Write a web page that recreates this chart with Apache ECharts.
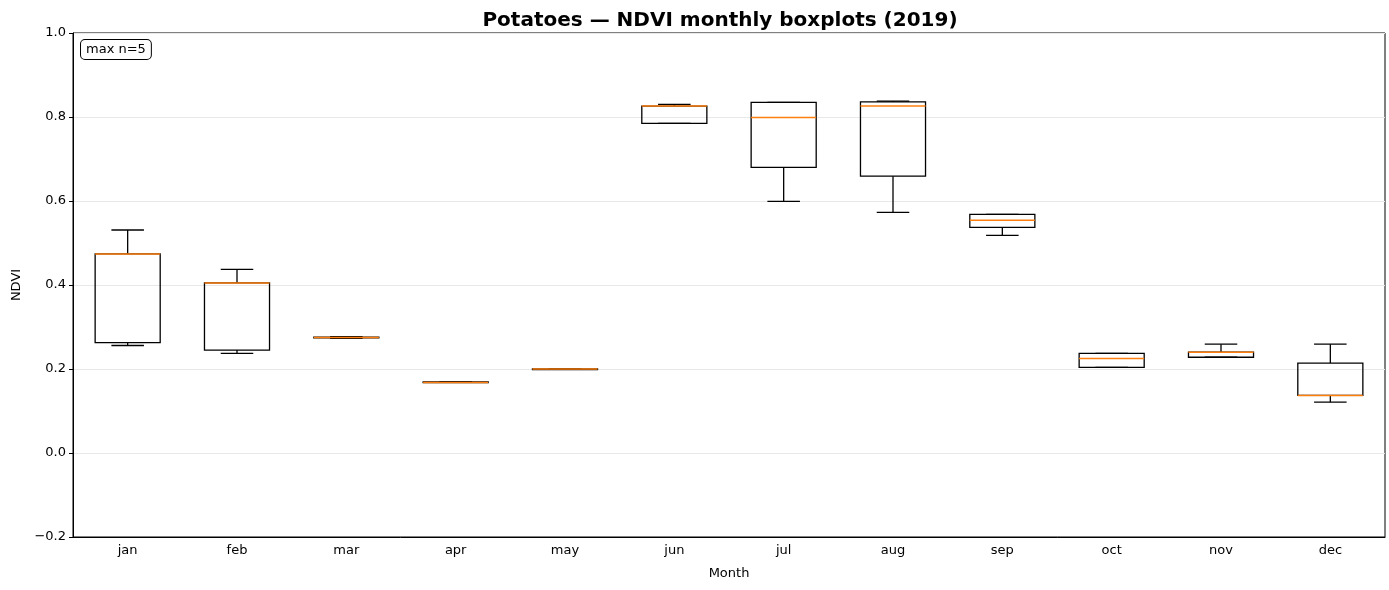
<!DOCTYPE html>
<html><head><meta charset="utf-8">
<script src="https://cdn.jsdelivr.net/npm/echarts@6/dist/echarts.min.js"></script>
<style>html,body{margin:0;padding:0;background:#fff}#c{width:1389px;height:590px}</style>
</head><body><div id="c"></div>
<script>
const months = ['jan','feb','mar','apr','may','jun','jul','aug','sep','oct','nov','dec'];
const whiskerLow = [0.256,0.237,0.273,0.168,0.199,0.785,0.599,0.573,0.518,0.204,0.228,0.121];
const q1Vals     = [0.263,0.245,0.274,0.168,0.200,0.785,0.680,0.659,0.537,0.204,0.228,0.137];
const medianVals = [0.474,0.405,0.275,0.168,0.200,0.826,0.799,0.826,0.554,0.225,0.240,0.137];
const q3Vals     = [0.474,0.405,0.276,0.169,0.200,0.826,0.835,0.836,0.568,0.237,0.240,0.214];
const whiskerHigh= [0.531,0.437,0.277,0.169,0.201,0.830,0.835,0.838,0.568,0.237,0.259,0.259];
const yTicks = [-0.2,0.0,0.2,0.4,0.6,0.8,1.0];

const chart = echarts.init(document.getElementById('c'), null, {renderer:'canvas'});
const FONT = 'DejaVu Sans';
const data = months.map((m,i)=>[i, whiskerLow[i], q1Vals[i], medianVals[i], q3Vals[i], whiskerHigh[i]]);

function renderItem(params, api){
  const i = api.value(0);
  const band = api.size([1,0])[0];
  const bw = band*0.595, cw = bw/2;
  const pLow = api.coord([i, api.value(1)]);
  const pQ1 = api.coord([i, api.value(2)]);
  const pMed = api.coord([i, api.value(3)]);
  const pQ3 = api.coord([i, api.value(4)]);
  const pHigh = api.coord([i, api.value(5)]);
  const x = pQ1[0];
  const ls = {stroke:'#000', lineWidth:1.3, fill:null};
  return {type:'group', children:[
    {type:'line', shape:{x1:x,y1:pQ3[1],x2:x,y2:pHigh[1]}, style:ls},
    {type:'line', shape:{x1:x,y1:pQ1[1],x2:x,y2:pLow[1]}, style:ls},
    {type:'line', shape:{x1:x-cw/2,y1:pHigh[1],x2:x+cw/2,y2:pHigh[1]}, style:ls},
    {type:'line', shape:{x1:x-cw/2,y1:pLow[1],x2:x+cw/2,y2:pLow[1]}, style:ls},
    {type:'rect', shape:{x:x-bw/2,y:pQ3[1],width:bw,height:Math.max(pQ1[1]-pQ3[1],0.5)}, style:ls},
    {type:'line', shape:{x1:x-bw/2,y1:pMed[1],x2:x+bw/2,y2:pMed[1]}, style:{stroke:'#ff7f0e', lineWidth:1.5}}
  ]};
}

chart.setOption({
  animation:false,
  backgroundColor:'#fff',
  title:{text:'Potatoes — NDVI monthly boxplots (2019)', left:715, top:6, textAlign:'center',
    textStyle:{fontFamily:FONT, fontSize:20, fontWeight:'bold', color:'#000'}},
  grid:{left:73, right:4, top:33, bottom:53, show:true, borderColor:'#000', borderWidth:1, backgroundColor:'transparent'},
  xAxis:{type:'category', data:months, boundaryGap:true, name:'Month', nameLocation:'middle', nameGap:30,
    nameTextStyle:{fontFamily:FONT, fontSize:13, color:'#000'},
    axisLine:{onZero:false, lineStyle:{color:'#000'}}, axisTick:{alignWithLabel:true, length:4, lineStyle:{color:'#000'}},
    axisLabel:{fontFamily:FONT, fontSize:13, color:'#000', margin:7}, splitLine:{show:false}},
  yAxis:{type:'value', min:-0.2, max:1.0, interval:0.2, name:'NDVI', nameLocation:'middle', nameGap:49,
    nameTextStyle:{fontFamily:FONT, fontSize:13, color:'#000'},
    axisLine:{show:true, lineStyle:{color:'#000'}}, axisTick:{show:true, length:4, lineStyle:{color:'#000'}},
    axisLabel:{fontFamily:FONT, fontSize:13, color:'#000', margin:7,
      formatter:v=>{const t=yTicks.find(k=>Math.abs(k-v)<1e-6); const s=(t===undefined?v:t).toFixed(1); return s.replace('-','\u2212');}},
    splitLine:{show:true, lineStyle:{color:'#e8e8e8', width:1}}},
  graphic:[{type:'text', left:80, top:39, z:100,
    style:{text:'max n=5', fontFamily:FONT, fontSize:13, fill:'#000',
      backgroundColor:'#fff', borderColor:'#000', borderWidth:1, borderRadius:4, padding:[3,5,3,5]}}],
  series:[{type:'custom', renderItem:renderItem, data:data, encode:{x:0, y:[1,2,3,4,5]}, clip:false}]
});
</script></body></html>
